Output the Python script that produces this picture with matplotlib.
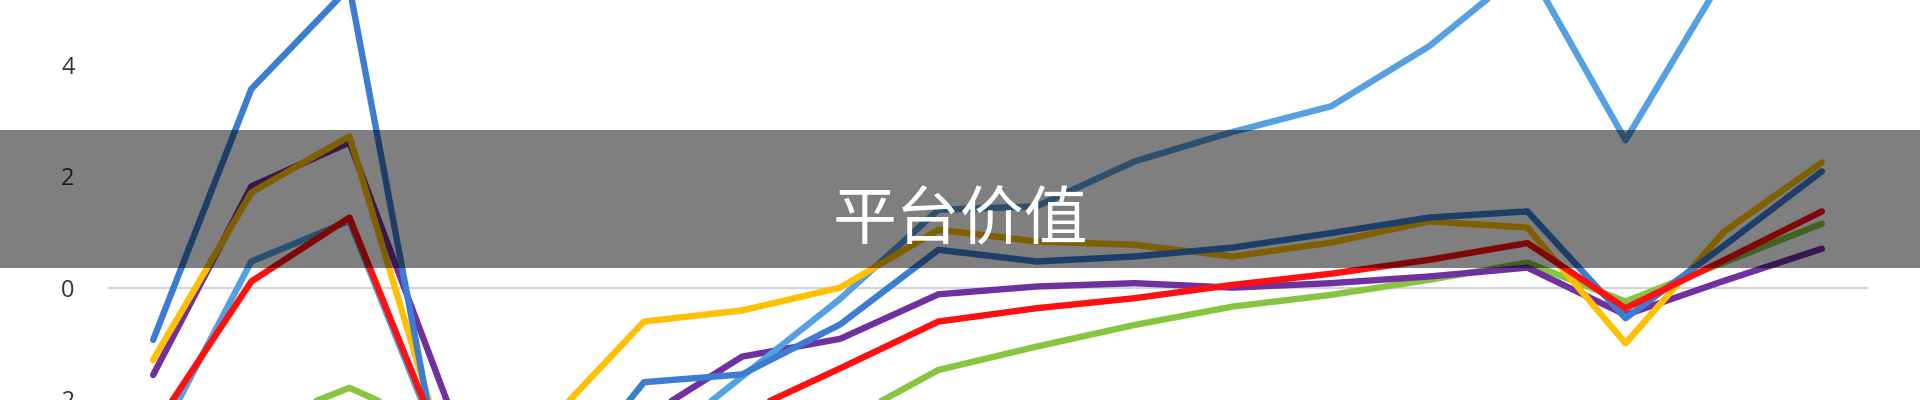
import matplotlib
matplotlib.use("Agg")
import matplotlib.pyplot as plt
from matplotlib.patches import Rectangle

plt.rcParams['font.family'] = ['Noto Sans CJK SC', 'DejaVu Sans']

# 18 periods, values (points below the frame are estimates)
periods = list(range(18))
blue = [-0.94, 3.57, 5.4, -4.0, -3.9, -1.70, -1.56, -0.66, 0.68, 0.47, 0.56, 0.72, 0.98, 1.26, 1.37, -0.55, 0.75, 2.09]
light_blue = [-2.9, 0.47, 1.2, -3.2, -3.3, -3.0, -1.6, -0.2, 1.40, 1.46, 2.27, 2.80, 3.26, 4.34, 5.77, 2.65, 5.6, 6.0]
yellow = [-1.30, 1.71, 2.72, -3.15, -2.48, -0.61, -0.41, 0.0, 1.04, 0.83, 0.77, 0.56, 0.81, 1.19, 1.08, -1.0, 1.0, 2.25]
purple = [-1.57, 1.82, 2.61, -2.07, -2.5, -2.35, -1.24, -0.92, -0.12, 0.02, 0.08, 0.0, 0.08, 0.20, 0.36, -0.49, 0.12, 0.70]
red = [-2.55, 0.11, 1.26, -3.1, -2.9, -2.6, -2.27, -1.45, -0.61, -0.37, -0.19, 0.05, 0.25, 0.50, 0.80, -0.37, 0.49, 1.37]
green = [-3.0, -2.5, -1.80, -2.6, -3.0, -2.8, -2.6, -2.44, -1.48, -1.06, -0.67, -0.34, -0.13, 0.14, 0.45, -0.25, 0.45, 1.15]

y_ticks = [-2, 0, 2, 4]
title = "平台价值"

fig = plt.figure(figsize=(19.2, 4), dpi=100, facecolor="white")
ax = fig.add_axes([108 / 1920, 0, (1868 - 108) / 1920, 1])
ax.set_facecolor("white")

ax.axhline(0, color="#d3d3de", lw=1.6, zorder=1)

series = [
  (green, "#86c540"),
  (purple, "#7030a0"),
  (light_blue, "#55a0e0"),
  (yellow, "#ffc000"),
  (blue, "#3c7dd4"),
  (red, "#ff1010"),
]
for vals, col in series:
  ax.plot(periods, vals, color=col, lw=4.6, solid_capstyle="round",
          solid_joinstyle="round", zorder=3)

ax.set_xlim(-0.46, 17.47)
ax.set_ylim(-2.02, 5.17)
ax.set_xticks([])
ax.set_yticks(y_ticks)
ax.set_yticklabels([str(t) for t in y_ticks], family=["Open Sans", "DejaVu Sans"],
                   fontsize=17, color="#33333f")
ax.tick_params(axis="y", length=0, pad=24)
for sp in ax.spines.values():
  sp.set_visible(False)

# dark translucent banner over the chart
fig.patches.append(Rectangle((0, 0.33), 1, 0.345, transform=fig.transFigure,
                             facecolor="black", alpha=0.5, zorder=10))
fig.text(0.5, 0.4475, title, color="white", fontsize=46, fontweight="light",
         ha="center", va="center", zorder=11)

fig.savefig("out.png", dpi=100, facecolor="white")
